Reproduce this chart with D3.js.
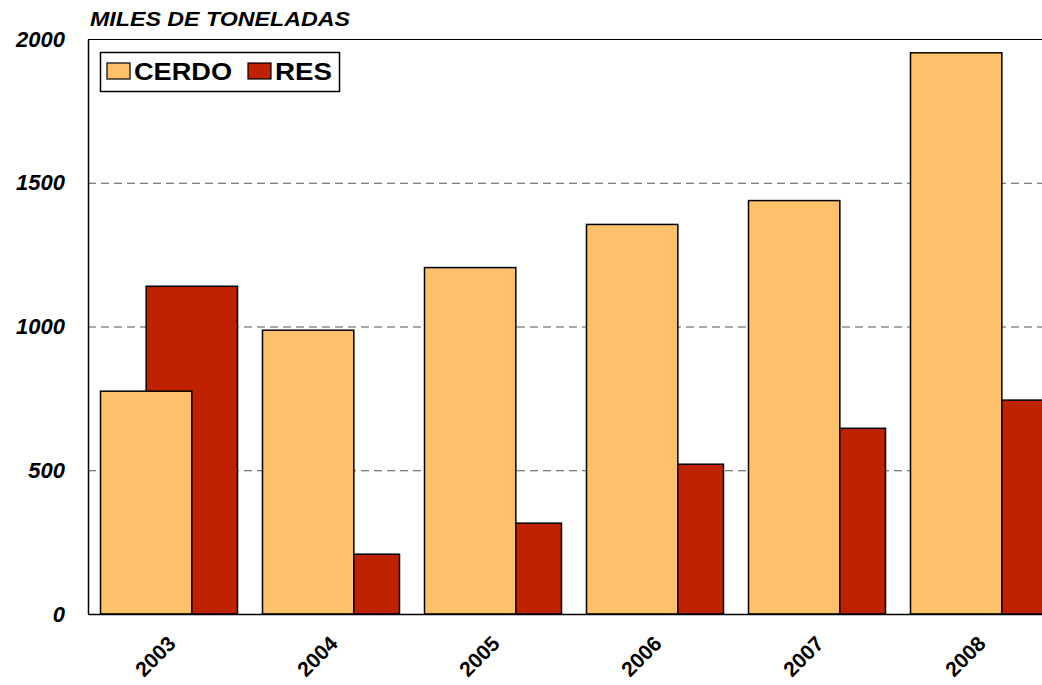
<!DOCTYPE html>
<html>
<head>
<meta charset="utf-8">
<script src="https://cdn.jsdelivr.net/npm/d3@7"></script>
<style>
  body { margin: 0; background: #fff; }
  text { font-family: "Liberation Sans", Arial, sans-serif; }
</style>
</head>
<body>
<script>
var svgWidth = 1042;
var svgHeight = 685;

var years = ["2003", "2004", "2005", "2006", "2007", "2008"];
var cerdo = [775, 987, 1205, 1355, 1438, 1952];
var res = [1140, 208, 316, 521, 646, 744];
var seriesNames = ["CERDO", "RES"];
var seriesColors = ["#FDC06B", "#BF2200"];
var yTicks = [0, 500, 1000, 1500, 2000];

var margin = { top: 39, left: 88, bottom: 71 };
var chartHeight = svgHeight - margin.top - margin.bottom;
var bandStep = 162;

var svg = d3.select("body")
  .append("svg")
  .attr("width", svgWidth)
  .attr("height", svgHeight);

var x = d3.scaleBand()
  .domain(years)
  .range([0, bandStep * years.length])
  .paddingInner(25 / 162)
  .paddingOuter(12.5 / 162);

// bars overlap by half their width (CERDO drawn over RES)
var barW = x.bandwidth() / 1.5;
var xSub = d3.scalePoint()
  .domain(seriesNames)
  .range([0, x.bandwidth() - barW]);

var y = d3.scaleLinear()
  .domain([0, 2000])
  .range([chartHeight, 0]);

var chartGroup = svg.append("g")
  .attr("transform", `translate(${margin.left}, ${margin.top})`);

// gridlines
chartGroup.selectAll(".grid")
  .data(yTicks.filter(d => d > 0 && d < 2000))
  .enter()
  .append("line")
  .attr("x1", 0)
  .attr("x2", svgWidth)
  .attr("y1", d => y(d) + 0.5)
  .attr("y2", d => y(d) + 0.5)
  .attr("stroke", "#555")
  .attr("stroke-dasharray", "8,5");

// top border
chartGroup.append("line")
  .attr("x1", 0).attr("x2", svgWidth)
  .attr("y1", 0.5).attr("y2", 0.5)
  .attr("stroke", "#000");

var rows = years.map((yr, i) => ({ year: yr, values: [cerdo[i], res[i]] }));

var groups = chartGroup.selectAll(".yr")
  .data(rows)
  .enter()
  .append("g")
  .attr("transform", d => `translate(${x(d.year)},0)`);

groups.selectAll("rect")
  .data(d => d.values.map((v, j) => ({ name: seriesNames[j], value: v, color: seriesColors[j] })).reverse())
  .enter()
  .append("rect")
  .attr("x", d => xSub(d.name))
  .attr("y", d => y(d.value))
  .attr("width", barW)
  .attr("height", d => chartHeight - y(d.value))
  .attr("fill", d => d.color)
  .attr("stroke", "#000")
  .attr("stroke-width", 1.5);

// y axis
var yAxis = d3.axisLeft(y).tickValues(yTicks).tickSize(0).tickPadding(23).tickFormat(d3.format("d"));
var yg = chartGroup.append("g").call(yAxis);
yg.select(".domain").attr("stroke", "#000").attr("stroke-width", 1.5);
yg.selectAll("text")
  .attr("font-size", 22)
  .attr("font-weight", "bold")
  .attr("font-style", "italic")
  .attr("fill", "#000")
  .attr("font-family", "Liberation Sans, Arial, sans-serif");

// x axis
var xAxis = d3.axisBottom(x).tickSize(0).tickPadding(0);
var xg = chartGroup.append("g")
  .attr("transform", `translate(0, ${chartHeight})`)
  .call(xAxis);
xg.select(".domain").attr("stroke", "#000").attr("stroke-width", 1.5);
xg.selectAll("text")
  .attr("font-size", 21)
  .attr("font-weight", "bold")
  .attr("fill", "#000")
  .attr("font-family", "Liberation Sans, Arial, sans-serif")
  .attr("text-anchor", "end")
  .attr("dy", 0)
  .attr("transform", "translate(8, 31) rotate(-45)");

// title
svg.append("text")
  .attr("x", 90)
  .attr("y", 26)
  .attr("font-size", 20)
  .attr("font-weight", "bold")
  .attr("font-style", "italic")
  .attr("textLength", 260)
  .attr("lengthAdjust", "spacingAndGlyphs")
  .text("MILES DE TONELADAS");

// legend
var legend = svg.append("g").attr("transform", "translate(100, 52)");
legend.append("rect")
  .attr("x", 0.5).attr("y", 0.5)
  .attr("width", 239).attr("height", 39)
  .attr("fill", "#fff")
  .attr("stroke", "#000")
  .attr("stroke-width", 1.5);
var legendX = [7, 148];
var legendLen = [98, 57];
seriesNames.forEach(function(name, i) {
  legend.append("rect")
    .attr("x", legendX[i]).attr("y", 11)
    .attr("width", 23).attr("height", 16)
    .attr("fill", seriesColors[i])
    .attr("stroke", "#000")
    .attr("stroke-width", 1.2);
  legend.append("text")
    .attr("x", legendX[i] + 27)
    .attr("y", 28)
    .attr("font-size", 24)
    .attr("font-weight", "bold")
    .attr("textLength", legendLen[i])
    .attr("lengthAdjust", "spacingAndGlyphs")
    .text(name);
});
</script>
</body>
</html>
